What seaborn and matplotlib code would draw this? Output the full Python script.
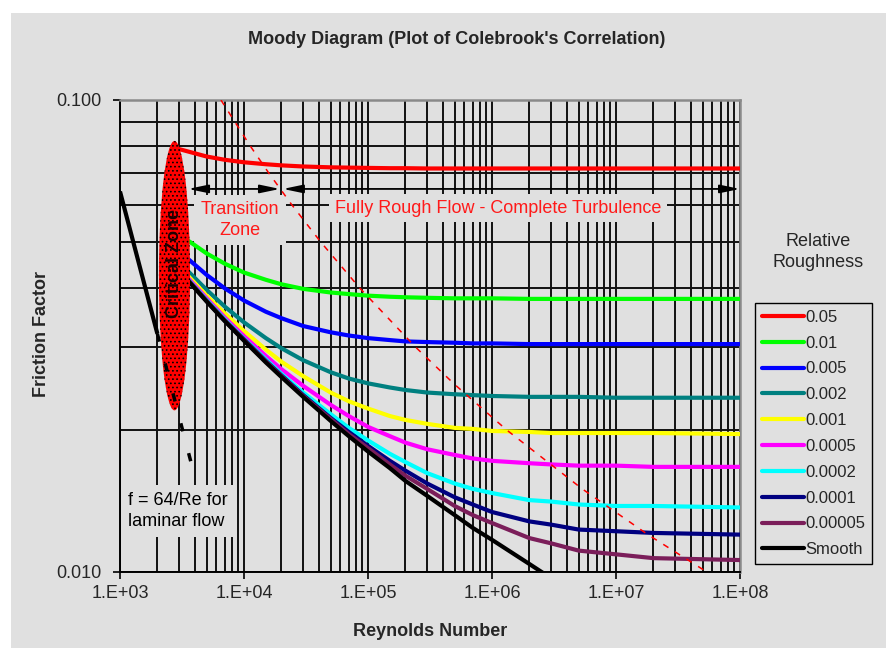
import matplotlib
matplotlib.use("Agg")
import matplotlib.pyplot as plt
from matplotlib.patches import Ellipse, Rectangle
from matplotlib.ticker import LogLocator, NullFormatter
import pandas as pd
import seaborn as sns

re_points = [3e3, 5e3, 7e3, 1e4, 1.5e4, 2e4, 3e4, 5e4, 7e4, 1e5, 1.5e5,
             2e5, 3e5, 5e5, 7e5, 1e6, 2e6, 3e6, 5e6, 1e7, 2e7, 1e8]

# friction factor for each relative roughness
f_0_05 = [0.0787, 0.0759, 0.0747, 0.0738, 0.0731, 0.0727, 0.0723, 0.0720, 0.0719, 0.0718, 0.0717,
          0.0717, 0.0716, 0.0716, 0.0716, 0.0716, 0.0716, 0.0716, 0.0716, 0.0716, 0.0716, 0.0716]
f_0_01 = [0.0519, 0.0473, 0.0450, 0.0431, 0.0416, 0.0407, 0.0398, 0.0391, 0.0388, 0.0385, 0.0383,
          0.0382, 0.0381, 0.0380, 0.0380, 0.0380, 0.0379, 0.0379, 0.0379, 0.0379, 0.0379, 0.0379]
f_0_005 = [0.0478, 0.0426, 0.0399, 0.0376, 0.0356, 0.0345, 0.0332, 0.0322, 0.0317, 0.0313, 0.0310,
           0.0308, 0.0307, 0.0306, 0.0305, 0.0305, 0.0304, 0.0304, 0.0304, 0.0304, 0.0304, 0.0304]
f_0_002 = [0.0453, 0.0396, 0.0365, 0.0338, 0.0313, 0.0298, 0.0281, 0.0265, 0.0257, 0.0251, 0.0246,
           0.0243, 0.0240, 0.0238, 0.0237, 0.0236, 0.0235, 0.0235, 0.0235, 0.0234, 0.0234, 0.0234]
f_0_001 = [0.0444, 0.0385, 0.0353, 0.0324, 0.0296, 0.0279, 0.0260, 0.0240, 0.0230, 0.0222, 0.0214,
           0.0210, 0.0206, 0.0202, 0.0201, 0.0199, 0.0198, 0.0197, 0.0197, 0.0197, 0.0197, 0.0196]
f_0_0005 = [0.0440, 0.0380, 0.0346, 0.0316, 0.0287, 0.0269, 0.0248, 0.0226, 0.0214, 0.0203, 0.0194,
            0.0188, 0.0182, 0.0177, 0.0174, 0.0172, 0.0170, 0.0169, 0.0168, 0.0168, 0.0167, 0.0167]
f_0_0002 = [0.0437, 0.0377, 0.0343, 0.0312, 0.0282, 0.0263, 0.0240, 0.0216, 0.0202, 0.0190, 0.0178,
            0.0171, 0.0162, 0.0154, 0.0150, 0.0147, 0.0142, 0.0141, 0.0139, 0.0138, 0.0138, 0.0137]
f_0_0001 = [0.0436, 0.0375, 0.0341, 0.0311, 0.0280, 0.0261, 0.0237, 0.0212, 0.0198, 0.0185, 0.0172,
            0.0164, 0.0154, 0.0144, 0.0139, 0.0134, 0.0128, 0.0126, 0.0123, 0.0122, 0.0121, 0.0120]
f_0_00005 = [0.0436, 0.0375, 0.0341, 0.0310, 0.0279, 0.0260, 0.0236, 0.0211, 0.0196, 0.0183, 0.0169,
             0.0160, 0.0150, 0.0138, 0.0132, 0.0127, 0.0118, 0.0115, 0.0111, 0.0109, 0.0107, 0.0106]
f_smooth = [0.0435, 0.0374, 0.0340, 0.0309, 0.0278, 0.0259, 0.0235, 0.0209, 0.0194, 0.0180, 0.0166,
            0.0156, 0.0145, 0.0132, 0.0124, 0.0117, 0.0104, 0.0097, 0.0090, 0.0081, 0.0073, 0.0059]

roughness = ["0.05", "0.01", "0.005", "0.002", "0.001", "0.0005", "0.0002", "0.0001", "0.00005", "Smooth"]
curve_colors = ["#ff0000", "#00ff00", "#0000ff", "#008080", "#ffff00",
                "#ff00ff", "#00ffff", "#000080", "#7b1e5a", "#000000"]
all_f = [f_0_05, f_0_01, f_0_005, f_0_002, f_0_001, f_0_0005, f_0_0002, f_0_0001, f_0_00005, f_smooth]

# laminar line f = 64/Re (solid part, then dashed through the critical zone)
lam_re = [1000, 2000]
lam_f = [0.064, 0.032]
lam_dash_re = [2000, 3800]
lam_dash_f = [0.032, 0.0168]

# dashed red boundary of the fully rough zone
rough_re = [6516, 11199, 15853, 24268, 41628, 85464, 240430, 496870, 1.3118e6, 5.337e6, 1.81e7, 5.405e7]
rough_f = [0.10, 0.08, 0.07, 0.06, 0.05, 0.04, 0.03, 0.025, 0.02, 0.015, 0.012, 0.01]

# critical zone extent
crit_re = [2060, 3670]
crit_f = [0.0220, 0.0819]

# arrows for the flow regimes
arrow_f = 0.0648
trans_arrow_re = [3540, 19500]
rough_arrow_re = [20600, 1e8]

x_ticks = [1e3, 1e4, 1e5, 1e6, 1e7, 1e8]
x_tick_labels = ["1.E+03", "1.E+04", "1.E+05", "1.E+06", "1.E+07", "1.E+08"]
y_ticks = [0.01, 0.1]
y_tick_labels = ["0.010", "0.100"]

bg = "#e0e0e0"

sns.set_style("ticks")
plt.rcParams["font.family"] = ["Liberation Sans", "DejaVu Sans"]
plt.rcParams["hatch.linewidth"] = 0.7

df = pd.DataFrame({
    "Re": re_points * len(roughness),
    "f": [v for series in all_f for v in series],
    "roughness": [r for r in roughness for _ in re_points],
})

fig = plt.figure(figsize=(8.87, 6.48), dpi=100, facecolor="white")
fig.patches.append(Rectangle((11 / 887, 0), 1, 1 - 13 / 648, transform=fig.transFigure,
                             facecolor=bg, edgecolor="none", zorder=-10))
ax = fig.add_axes([120 / 887, 1 - 572 / 648, 620 / 887, 472 / 648])
ax.set_facecolor(bg)
ax.set_xscale("log")
ax.set_yscale("log")
ax.set_xlim(1e3, 1e8)
ax.set_ylim(0.01, 0.1)

sns.lineplot(data=df, x="Re", y="f", hue="roughness", hue_order=roughness,
             palette=dict(zip(roughness, curve_colors)), estimator=None, sort=False,
             lw=3, legend=False, ax=ax, zorder=3)
curve_lines = list(ax.lines[:len(roughness)])

ax.plot(lam_re, lam_f, color="black", lw=3, zorder=3, solid_capstyle="butt")
ax.plot(lam_dash_re, lam_dash_f, color="black", lw=2.5, zorder=4,
        linestyle=(0, (2.4, 6.5)))
ax.plot(rough_re, rough_f, color="red", lw=1.1, zorder=4, linestyle=(0, (4, 5)))

# critical zone ellipse
to_axes = ax.transScale + ax.transLimits
x0, y0 = to_axes.transform((crit_re[0], crit_f[0]))
x1, y1 = to_axes.transform((crit_re[1], crit_f[1]))
ax.add_patch(Ellipse(((x0 + x1) / 2, (y0 + y1) / 2), x1 - x0, y1 - y0,
                     transform=ax.transAxes, facecolor="red", edgecolor="black",
                     lw=0, hatch="....", zorder=3.5))
ax.text(2750, 0.045, "Critical Zone", rotation=90, ha="center", va="center",
        fontsize=13, fontweight="bold", color="#200000", zorder=4.5)

# arrows
for pair in [trans_arrow_re, rough_arrow_re]:
    ax.annotate("", xy=(pair[1], arrow_f), xytext=(pair[0], arrow_f),
                arrowprops=dict(arrowstyle="<|-|>,head_length=1.2,head_width=0.25",
                                color="black", lw=1.3, shrinkA=0, shrinkB=0),
                zorder=4)

box = dict(boxstyle="square,pad=0.35", facecolor=bg, edgecolor="none")
ax.text(9290, 0.0557, "Transition\nZone", ha="center", va="center", fontsize=13,
        color="#ff1a1a", linespacing=1.25, bbox=box, zorder=2.6)
ax.text(1.117e6, 0.0590, "Fully Rough Flow - Complete Turbulence", ha="center", va="center",
        fontsize=13, color="#ff1a1a", bbox=dict(boxstyle="square,pad=0.3", facecolor=bg,
                                               edgecolor="none"), zorder=2.6)
ax.text(1160, 0.01346, "f = 64/Re for\nlaminar flow", ha="left", va="center", fontsize=13,
        color="black", linespacing=1.3, bbox=dict(boxstyle="square,pad=0.4", facecolor=bg,
                                                  edgecolor="none"), zorder=2.6)

# grid and axes
ax.set_axisbelow(True)
ax.xaxis.set_minor_locator(LogLocator(base=10, subs=range(2, 10)))
ax.yaxis.set_minor_locator(LogLocator(base=10, subs=range(2, 10)))
ax.xaxis.set_minor_formatter(NullFormatter())
ax.yaxis.set_minor_formatter(NullFormatter())
ax.grid(True, which="both", color="#111111", lw=1.4)
ax.set_xticks(x_ticks, x_tick_labels)
ax.set_yticks(y_ticks, y_tick_labels)
ax.tick_params(axis="both", which="major", labelsize=13, length=5, width=1.2,
               color="black", direction="out")
ax.tick_params(axis="x", pad=4)
ax.tick_params(axis="y", pad=8)
ax.tick_params(which="minor", length=0)
for side in ["left", "bottom"]:
    ax.spines[side].set_color("black")
    ax.spines[side].set_linewidth(1.4)
for side in ["top", "right"]:
    ax.spines[side].set_color("#8a8a8a")
    ax.spines[side].set_linewidth(1.8)

ax.set_xlabel("Reynolds Number", fontsize=13, fontweight="bold")
ax.xaxis.set_label_coords(0.5, -0.108)
ax.set_ylabel("Friction Factor", fontsize=13, fontweight="bold")
ax.yaxis.set_label_coords(-0.113, 0.504)

fig.text(457 / 887, 1 - 39 / 648, "Moody Diagram (Plot of Colebrook's Correlation)",
         ha="center", va="center", fontsize=13, fontweight="bold")
fig.text(818 / 887, 1 - 252 / 648, "Relative\nRoughness", ha="center", va="center",
         fontsize=13, linespacing=1.35)

leg = ax.legend(curve_lines, roughness, loc="upper left",
                bbox_to_anchor=(755 / 887, 1 - 303 / 648), bbox_transform=fig.transFigure,
                fontsize=12, frameon=True, fancybox=False, framealpha=1,
                facecolor=bg, edgecolor="black", borderaxespad=0, borderpad=0.4,
                handlelength=2.55, handletextpad=0.05, labelspacing=0.65)
leg.get_frame().set_linewidth(1.0)

fig.savefig("out.png", dpi=100, facecolor="white")
